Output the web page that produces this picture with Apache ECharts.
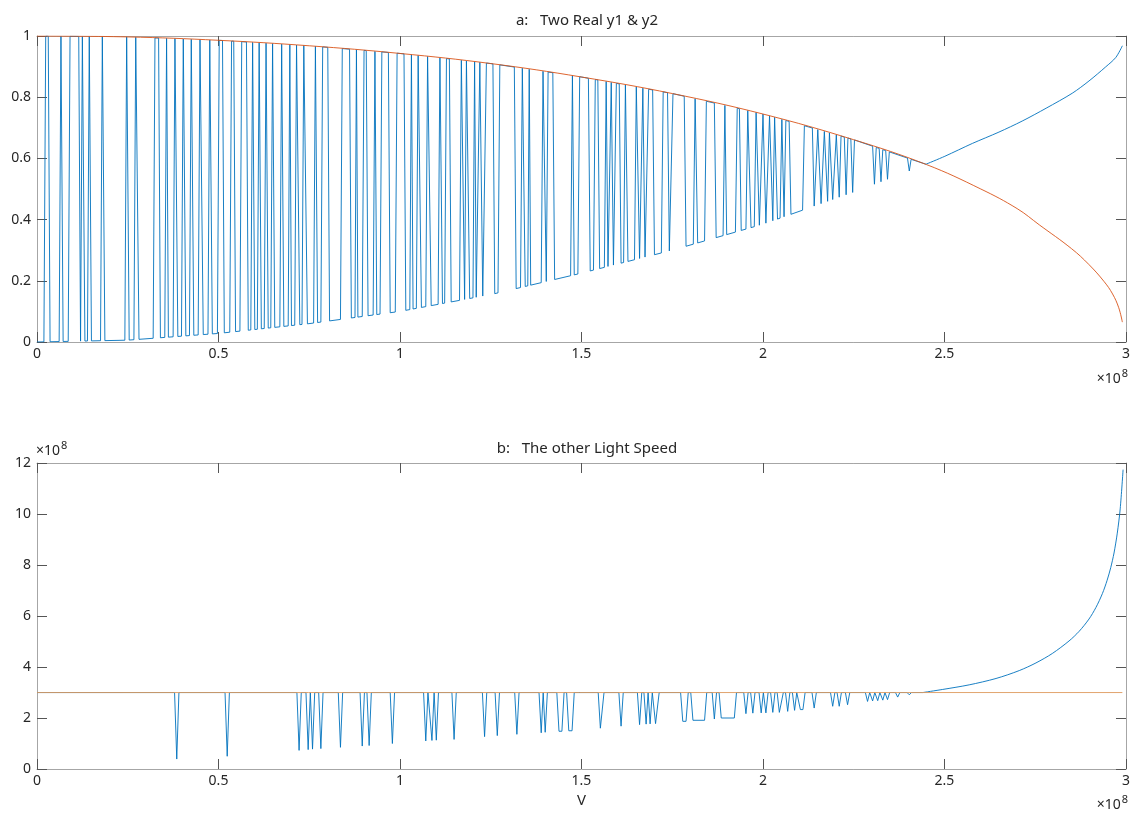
<!DOCTYPE html>
<html>
<head>
<meta charset="utf-8">
<script src="https://cdn.jsdelivr.net/npm/echarts@6.0.0/dist/echarts.min.js"></script>
<style>
  html, body { margin: 0; padding: 0; background: #fff; }
  #chart { width: 1133px; height: 814px; }
</style>
</head>
<body>
<div id="chart"></div>
<script>
// x values are in units of 1e8 (the axes carry a x10^8 factor)
const xTickLabels = ['0', '0.5', '1', '1.5', '2', '2.5', '3'];
const yTickLabelsA = ['0', '0.2', '0.4', '0.6', '0.8', '1'];
const yTickLabelsB = ['0', '2', '4', '6', '8', '10', '12'];

// --- a: Two Real y1 & y2 ---
// y2 (orange)
const y2X = [0, 0.25, 0.5, 0.75, 1.0, 1.25, 1.5, 1.75, 2.0, 2.25, 2.45, 2.6, 2.7, 2.761, 2.85, 2.898, 2.94, 2.963, 2.98, 2.99];
const y2Y = [1.0, 0.997, 0.986, 0.968, 0.943, 0.910, 0.866, 0.812, 0.745, 0.661, 0.58, 0.50, 0.436, 0.383, 0.305, 0.253, 0.197, 0.157, 0.112, 0.065];

// level y1 drops to (bottom of the blue stripes)
const y1LowX = [0, 0.25, 0.5, 0.75, 1.0, 1.25, 1.5, 1.75, 2.0, 2.25, 2.45];
const y1LowY = [0, 0.006, 0.028, 0.06, 0.10, 0.155, 0.225, 0.30, 0.385, 0.49, 0.58];

// spans where y1 sits on the low level [from, to]
const y1Lows = [
  [0, 0.019], [0.036, 0.061], [0.072, 0.086], [0.120, 0.120], [0.132, 0.139], [0.150, 0.175],
  [0.187, 0.242], [0.254, 0.267], [0.281, 0.320], [0.340, 0.352], [0.362, 0.375], [0.388, 0.398],
  [0.410, 0.420], [0.432, 0.444], [0.458, 0.471], [0.483, 0.497], [0.516, 0.531], [0.547, 0.559],
  [0.582, 0.589], [0.600, 0.607], [0.618, 0.626], [0.637, 0.644], [0.655, 0.669], [0.680, 0.692],
  [0.701, 0.710], [0.724, 0.730], [0.745, 0.762], [0.773, 0.782], [0.806, 0.836], [0.866, 0.876],
  [0.884, 0.896], [0.912, 0.926], [0.936, 0.945], [0.973, 0.987], [1.016, 1.027], [1.036, 1.045],
  [1.059, 1.071], [1.086, 1.105], [1.117, 1.123], [1.141, 1.164], [1.178, 1.178], [1.192, 1.201],
  [1.210, 1.215], [1.228, 1.233], [1.261, 1.270], [1.320, 1.332], [1.345, 1.352], [1.360, 1.389],
  [1.403, 1.403], [1.426, 1.470], [1.480, 1.490], [1.524, 1.533], [1.550, 1.563], [1.573, 1.577],
  [1.588, 1.591], [1.609, 1.616], [1.628, 1.646], [1.660, 1.664], [1.675, 1.680], [1.701, 1.720],
  [1.742, 1.747], [1.788, 1.808], [1.820, 1.839], [1.871, 1.890], [1.900, 1.924], [1.940, 1.953],
  [1.967, 1.976], [1.990, 1.995], [2.008, 2.013], [2.027, 2.027], [2.040, 2.047], [2.058, 2.058],
  [2.077, 2.109], [2.141, 2.146], [2.160, 2.164], [2.178, 2.178], [2.192, 2.197], [2.210, 2.210],
  [2.229, 2.229], [2.247, 2.247], [2.307, 2.307], [2.325, 2.325], [2.343, 2.343], [2.403, 2.403]
];

// y1 after it leaves y2 and climbs
const y1Branch = [
  [2.449, 0.581], [2.501, 0.607], [2.577, 0.649], [2.65, 0.686], [2.714, 0.722], [2.78, 0.764],
  [2.852, 0.813], [2.898, 0.853], [2.944, 0.899], [2.972, 0.930], [2.99, 0.968]
];

// --- b: The other Light Speed (units of 1e8) ---
const cLight = [[0, 2.998], [2.99, 2.998]];
const cBase = 2.998;
// dips of c' below c: [bottom from, bottom to, lowest value]
const cDips = [
  [0.385, 0.385, 0.39], [0.524, 0.524, 0.50], [0.722, 0.722, 0.73], [0.747, 0.747, 0.76],
  [0.759, 0.759, 0.78], [0.782, 0.782, 0.80], [0.836, 0.836, 0.85], [0.896, 0.896, 0.90],
  [0.915, 0.915, 0.92], [0.979, 0.979, 1.00], [1.071, 1.071, 1.10], [1.088, 1.088, 1.12],
  [1.100, 1.100, 1.13], [1.149, 1.149, 1.16], [1.233, 1.233, 1.27], [1.268, 1.268, 1.31],
  [1.322, 1.322, 1.36], [1.389, 1.389, 1.42], [1.400, 1.400, 1.44], [1.438, 1.446, 1.48],
  [1.465, 1.474, 1.50], [1.552, 1.556, 1.60], [1.609, 1.609, 1.68], [1.660, 1.660, 1.74],
  [1.678, 1.678, 1.76], [1.689, 1.689, 1.77], [1.704, 1.708, 1.78], [1.779, 1.788, 1.87],
  [1.807, 1.839, 1.91], [1.866, 1.866, 1.96], [1.885, 1.921, 2.00], [1.953, 1.953, 2.17],
  [1.972, 1.972, 2.19], [1.995, 1.995, 2.20], [2.008, 2.008, 2.20], [2.027, 2.027, 2.22],
  [2.045, 2.050, 2.22], [2.068, 2.068, 2.26], [2.087, 2.087, 2.30], [2.103, 2.110, 2.33],
  [2.141, 2.141, 2.39], [2.192, 2.192, 2.46], [2.210, 2.210, 2.46], [2.233, 2.233, 2.52],
  [2.288, 2.288, 2.65], [2.302, 2.302, 2.67], [2.316, 2.316, 2.68], [2.330, 2.330, 2.70],
  [2.343, 2.343, 2.72], [2.371, 2.371, 2.82], [2.403, 2.403, 2.91]
];
const cBranch = [
  [2.44, 2.998], [2.495, 3.12], [2.568, 3.30], [2.642, 3.55], [2.706, 3.86], [2.752, 4.16],
  [2.797, 4.53], [2.843, 5.02], [2.871, 5.40], [2.898, 5.88], [2.917, 6.33], [2.935, 6.88],
  [2.948, 7.40], [2.958, 7.90], [2.967, 8.47], [2.976, 9.25], [2.984, 10.2], [2.992, 11.74]
];

const FONT = '"Noto Sans", "Open Sans", sans-serif';
const INK = '#262626';
const BLUE = '#0072BD', ORANGE = '#D95319', ORANGE_B = '#DE9A5E';
const EDGE_A = 0.005, EDGE_B = 0.006;   // slant of the stripe edges (one sample step)

function lerp(xs, ys, x) {
  if (x <= xs[0]) return ys[0];
  for (let i = 1; i < xs.length; i++) {
    if (x <= xs[i]) {
      const t = (x - xs[i - 1]) / (xs[i] - xs[i - 1]);
      return ys[i - 1] + t * (ys[i] - ys[i - 1]);
    }
  }
  return ys[ys.length - 1];
}
const onY2 = x => [x, lerp(y2X, y2Y, x)];
const onLow = x => [x, lerp(y1LowX, y1LowY, x)];

function buildY1() {
  const pts = [];
  y1Lows.forEach(([a, b], i) => {
    if (i === 0 && a === 0) {
      pts.push(onLow(0));
    } else {
      let xd = a - EDGE_A;
      const prev = y1Lows[i - 1];
      if (prev && xd < prev[1] + EDGE_A) { pts.pop(); xd = (a + prev[1]) / 2; }
      pts.push(onY2(xd));
      pts.push(onLow(a));
    }
    if (b > a) pts.push(onLow(b));
    pts.push(onY2(b + EDGE_A));
  });
  pts.push(y1Branch[0]);
  return pts;
}

function buildC() {
  const pts = [[0, cBase]];
  cDips.forEach(([a, b, v], i) => {
    let xd = a - EDGE_B;
    const prev = cDips[i - 1];
    if (prev && xd < prev[1] + EDGE_B) { pts.pop(); xd = (a + prev[1]) / 2; }
    pts.push([xd, cBase]);
    pts.push([a, v]);
    if (b > a) pts.push([b, v]);
    pts.push([b + EDGE_B, cBase]);
  });
  pts.push(cBranch[0]);
  return pts;
}

function makeX(grid, pos, labels, name) {
  return {
    type: 'value', gridIndex: grid, position: pos, min: 0, max: 3, interval: 0.5,
    name: name || '', nameLocation: 'middle', nameGap: 24,
    nameTextStyle: { color: INK, fontSize: 15, fontFamily: FONT },
    axisLine: { show: true, onZero: false, lineStyle: { color: '#a6a6a6', width: 1 } },
    axisTick: { show: true, inside: true, length: 10, lineStyle: { color: '#555' } },
    axisLabel: {
      show: labels, color: INK, fontSize: 14, fontFamily: FONT, margin: 5,
      formatter: v => xTickLabels[Math.round(v / 0.5)]
    },
    splitLine: { show: false }
  };
}
function makeY(grid, pos, labels, max, step, tickLabels) {
  return {
    type: 'value', gridIndex: grid, position: pos, min: 0, max: max, interval: step,
    axisLine: { show: true, onZero: false, lineStyle: { color: '#a6a6a6', width: 1 } },
    axisTick: { show: true, inside: true, length: 10, lineStyle: { color: '#555' } },
    axisLabel: {
      show: labels, color: INK, fontSize: 14, fontFamily: FONT, margin: 6,
      formatter: v => tickLabels[Math.round(v / step)]
    },
    splitLine: { show: false }
  };
}
function line(data, color, xi, yi, smooth) {
  return {
    type: 'line', data: data, xAxisIndex: xi, yAxisIndex: yi, showSymbol: false,
    smooth: smooth || false, lineStyle: { color: color, width: 0.9 }, itemStyle: { color: color },
    silent: true
  };
}
// "x10^8" exponent label
function power(pos) {
  return {
    type: 'text', ...pos,
    style: {
      text: '{m|×10}{e|8}', fill: INK,
      rich: {
        m: { fontSize: 14, fontFamily: FONT, lineHeight: 18, verticalAlign: 'bottom', fill: INK },
        e: { fontSize: 11, fontFamily: FONT, lineHeight: 18, verticalAlign: 'top', fill: INK, padding: [0, 0, 0, 1] }
      }
    }
  };
}

const chart = echarts.init(document.getElementById('chart'), null, { renderer: 'canvas' });
chart.setOption({
  animation: false,
  backgroundColor: '#fff',
  title: [
    { text: 'a:   Two Real y1 & y2', left: 582, top: 8, textAlign: 'center',
      textStyle: { fontSize: 15, fontWeight: 'normal', color: INK, fontFamily: FONT } },
    { text: 'b:   The other Light Speed', left: 582, top: 436, textAlign: 'center',
      textStyle: { fontSize: 15, fontWeight: 'normal', color: INK, fontFamily: FONT } }
  ],
  grid: [
    { left: 37, top: 36, width: 1090, height: 306 },
    { left: 37, top: 463, width: 1090, height: 306 }
  ],
  xAxis: [
    makeX(0, 'bottom', true), makeX(0, 'top', false),
    makeX(1, 'bottom', true, 'V'), makeX(1, 'top', false)
  ],
  yAxis: [
    makeY(0, 'left', true, 1, 0.2, yTickLabelsA), makeY(0, 'right', false, 1, 0.2, yTickLabelsA),
    makeY(1, 'left', true, 12, 2, yTickLabelsB), makeY(1, 'right', false, 12, 2, yTickLabelsB)
  ],
  graphic: [
    power({ right: 5, top: 368 }),
    power({ left: 36, top: 440 }),
    power({ right: 5, top: 794 })
  ],
  series: [
    line(buildY1(), BLUE, 0, 0),
    line(y1Branch, BLUE, 0, 0, 0.3),
    line(y2X.map((x, i) => [x, y2Y[i]]), ORANGE, 0, 0, 0.4),
    line(buildC(), BLUE, 2, 2),
    line(cBranch, BLUE, 2, 2, 0.3),
    line(cLight, ORANGE_B, 2, 2)
  ]
});
</script>
</body>
</html>
